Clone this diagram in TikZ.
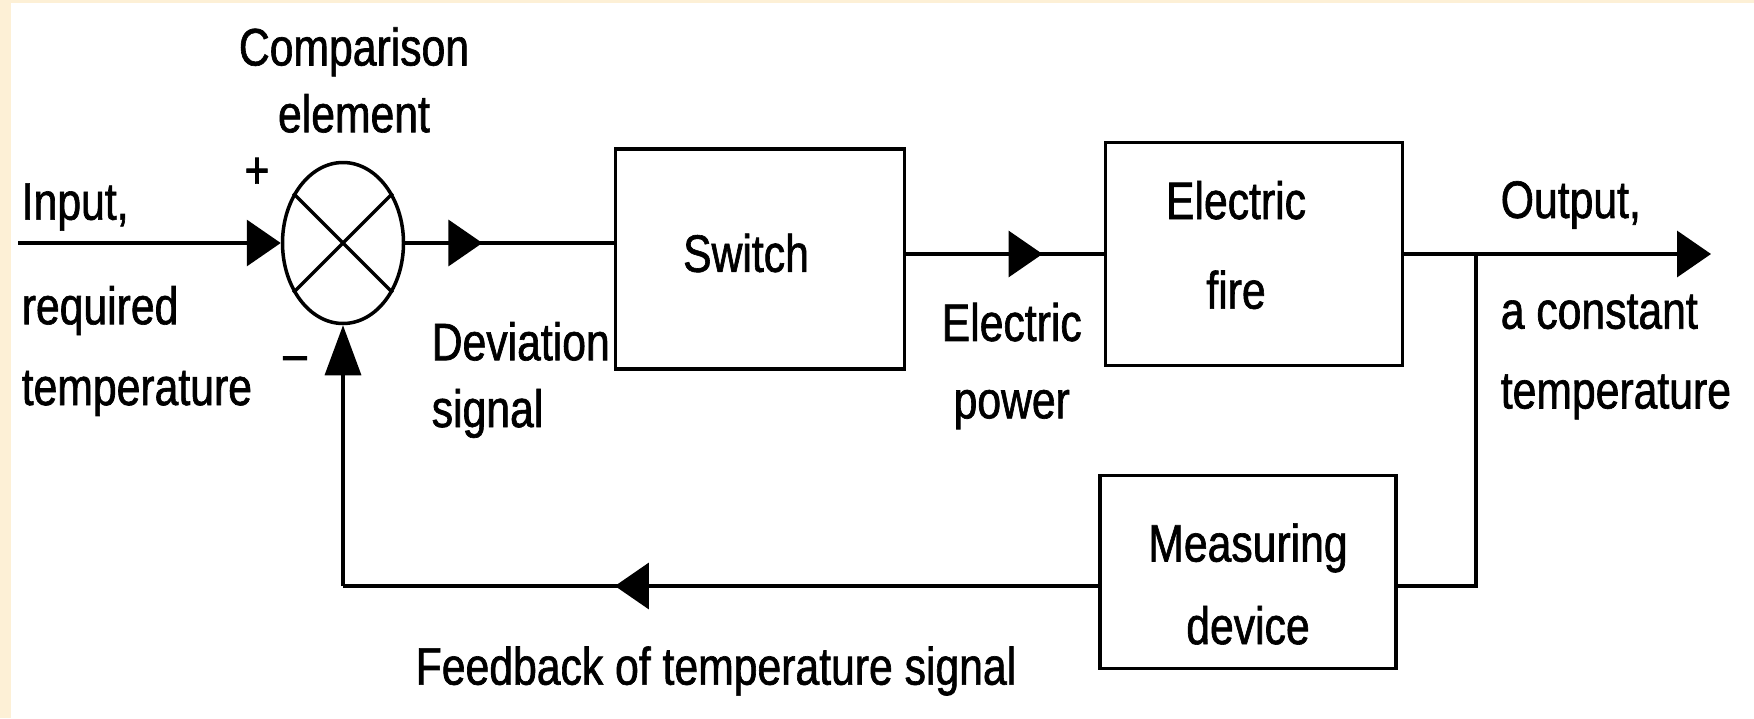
\documentclass[tikz,border=0pt]{standalone}
\usepackage{fontspec}
\setmainfont{Liberation Sans}[FakeStretch=0.81,FakeBold=1.2]
\usepackage{tikz}
\usetikzlibrary{arrows.meta,positioning,shapes.geometric,decorations.markings}
\definecolor{scancream}{RGB}{253,240,214}
\tikzset{blk/.style={draw, line width=0.35mm, inner sep=0pt}, lbl/.style={inner sep=0pt, align=left, font=\fontsize{15}{22}\selectfont}, endtip/.style={-{Triangle[length=3.4mm,width=4.6mm]}}, uptip/.style={-{Triangle[length=5mm,width=3.6mm]}}, midtip/.style={postaction={decorate}, decoration={markings, mark=at position #1 with {\arrow{Triangle[length=3.4mm,width=4.6mm]}}}}}

\begin{document}
\begin{tikzpicture}[x=0.1mm,y=-0.1mm,line width=0.35mm]
\useasboundingbox (0,0) rectangle (1754,718);
\fill[white] (0,0) rectangle (1754,718); \fill[scancream] (0,0) rectangle (11,718); \fill[scancream] (0,0) rectangle (1754,3);
\node[draw, ellipse, minimum width=12.1mm, minimum height=16.1mm, inner sep=0pt] (cmp) at (343,243) {};
\node[blk, minimum width=28.9mm, minimum height=22.0mm] (switch) at (760,259) {};
\node[blk, minimum width=29.7mm, minimum height=22.3mm] (fire) at (1254,254) {};
\node[blk, minimum width=29.6mm, minimum height=19.3mm] (meas) at (1248,572) {};
\node[lbl] (switchtxt) at ([xshift=-1.4mm,yshift=0.6mm]switch.center) {Switch};
\node[lbl, align=center, font=\fontsize{15}{25.5}\selectfont] (firetxt) at ([xshift=-1.8mm,yshift=0.9mm]fire.center) {Electric\\fire};
\node[lbl, align=center, font=\fontsize{15}{23.5}\selectfont] (meastxt) at ([yshift=-1.2mm]meas.center) {Measuring\\device};
\coordinate (in) at (18,243); \coordinate (out) at (1711,254); \coordinate (tap) at (1476,254); \coordinate (fbc) at (343,586);
\node[lbl, align=center, font=\fontsize{15}{19}\selectfont] (cmplbl) at (354,80) {Comparison\\element};
\node[lbl, anchor=west] (inlbl) at (20,207) {Input,};
\node[lbl, anchor=west, font=\fontsize{15}{23}\selectfont] (reqlbl) at (20,351) {required\\temperature};
\node[lbl] (plus) at (257,173) {+};
\node[lbl] (minus) at (295,364) {--};
\node[lbl, anchor=west, font=\fontsize{15}{19}\selectfont] (devlbl) at (430,380) {Deviation\\signal};
\node[lbl, anchor=west, align=center] (pwrlbl) at (940,366) {Electric\\power};
\node[lbl, anchor=west] (outlbl) at (1499,205) {Output,};
\node[lbl, anchor=west, font=\fontsize{15}{22.7}\selectfont] (constlbl) at (1499,357) {a constant\\temperature};
\node[lbl] (fblbl) at (716,671) {Feedback of temperature signal};
\draw (cmp.45) -- (cmp.225) (cmp.135) -- (cmp.-45);
\draw[endtip] (in) -- (cmp.west); \draw[midtip=0.37] (cmp.east) -- (cmp.east -| switch.west); \draw[midtip=0.69] (switch.east |- fire.west) -- (fire.west); \draw[endtip] (fire.east) -- (out);
\draw (tap) |- (meas.east |- fbc); \draw[midtip=0.64] (meas.west |- fbc) -- (fbc); \draw[uptip] (fbc) -- (cmp.south);
\end{tikzpicture}
\end{document}
